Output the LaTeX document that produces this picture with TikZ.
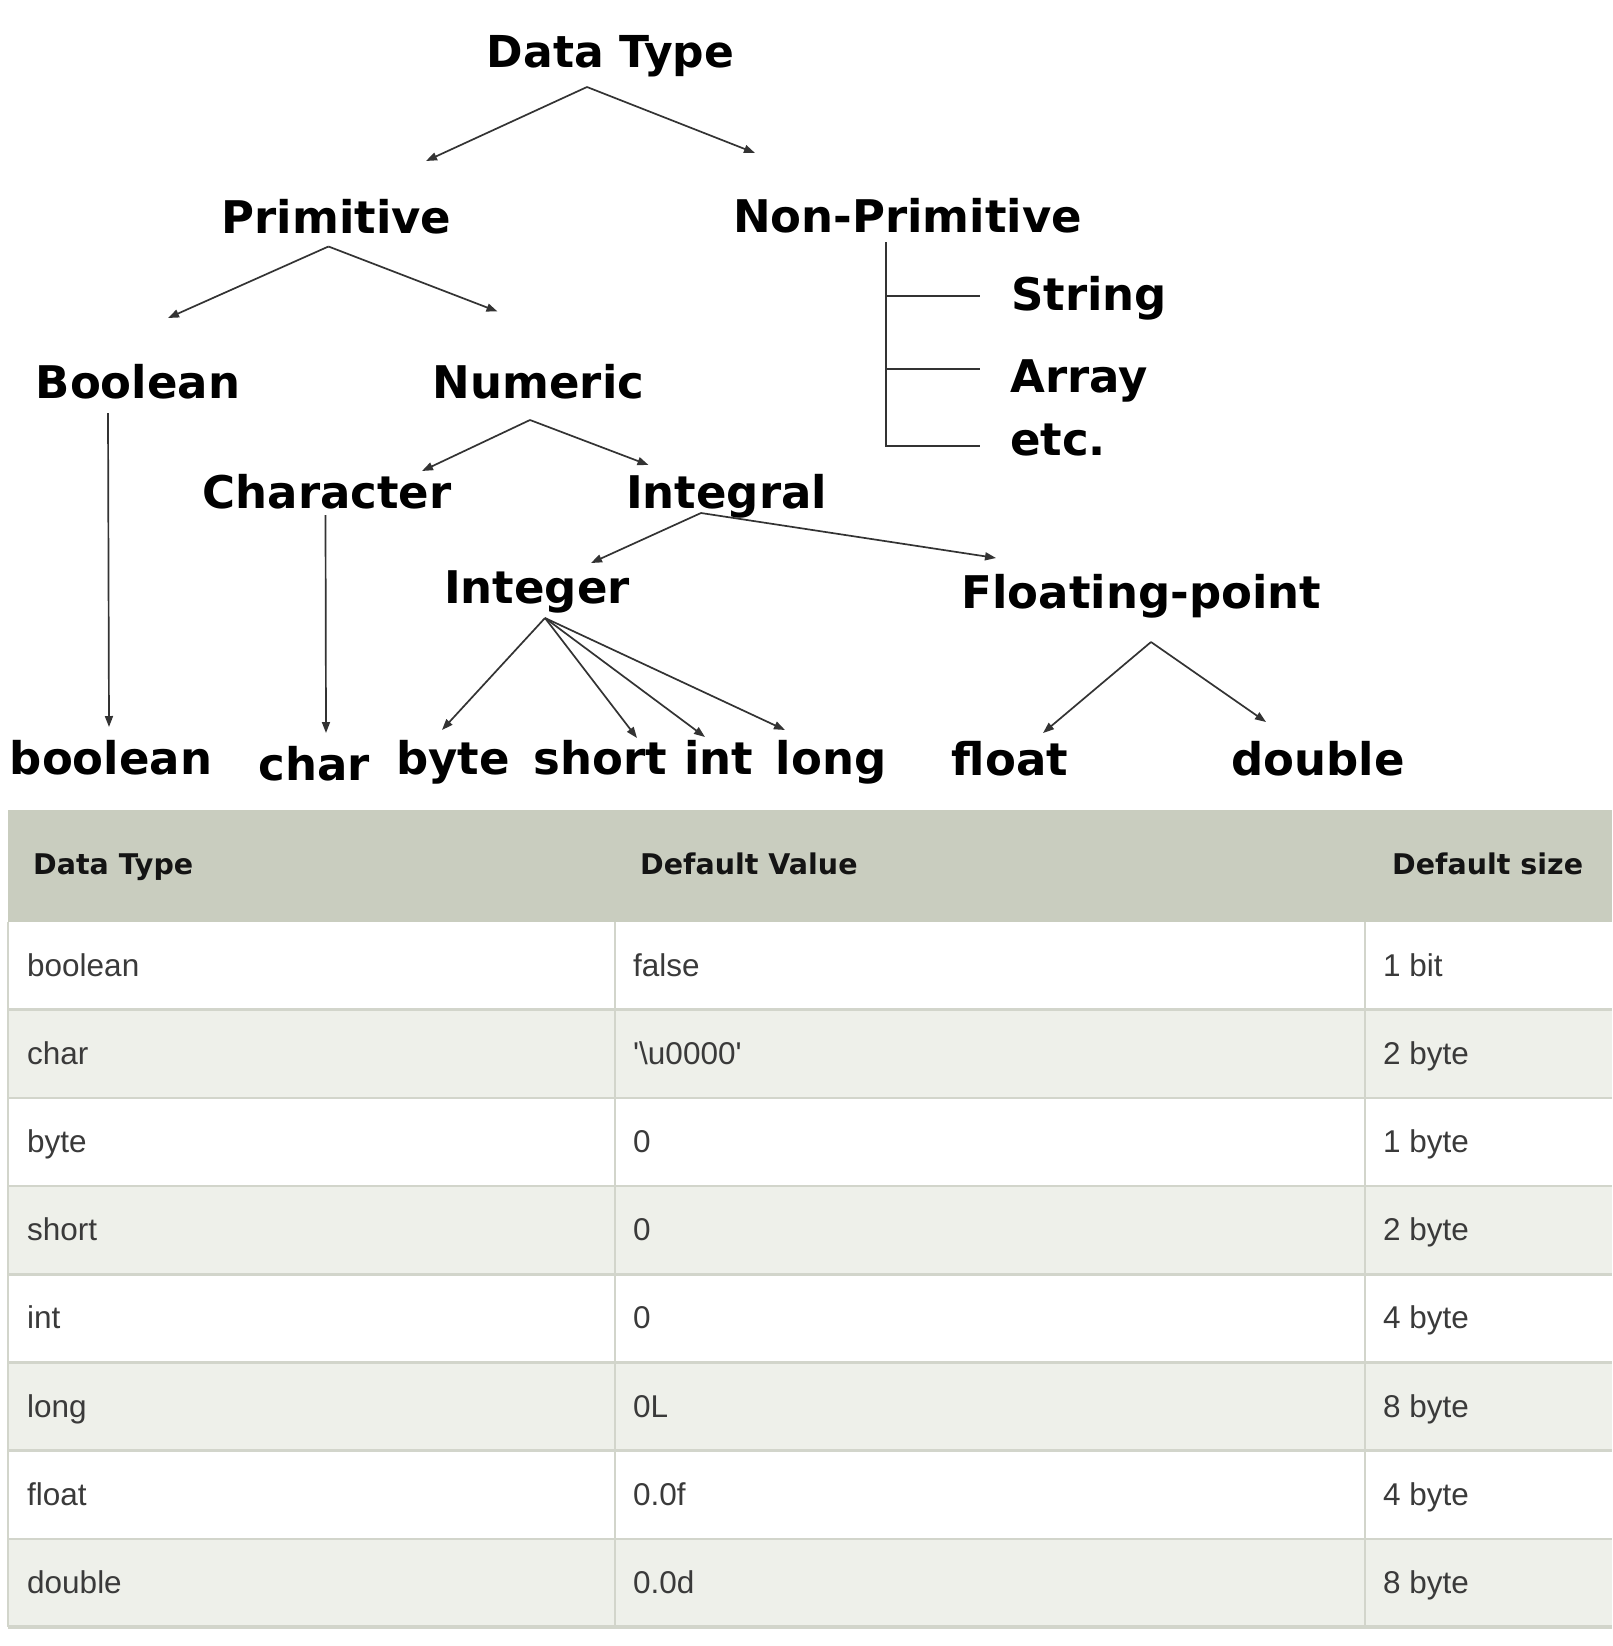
\documentclass[tikz,border=0pt]{standalone}
\usepackage{fontspec}
\setmainfont{Liberation Sans}
\newfontfamily\treefont{DejaVu Sans}
\usetikzlibrary{arrows.meta}

\definecolor{headbg}{HTML}{C9CDBF}
\definecolor{altrow}{HTML}{EEF0EA}
\definecolor{tabline}{HTML}{D2D5CB}
\definecolor{inkline}{HTML}{333333}
\definecolor{celltext}{HTML}{3A3A3A}

\begin{document}
\begin{tikzpicture}[x=1pt,y=-1pt,
  tree/.style={font=\treefont\bfseries\fontsize{45}{50}\selectfont, inner sep=0pt, anchor=base, text=black},
  treeleft/.style={tree, anchor=base west},
  link/.style={draw=inkline, line width=1.7pt, -{Triangle[length=11pt,width=8pt]}},
  bracket/.style={draw=inkline, line width=1.8pt},
  head/.style={font=\treefont\bfseries\fontsize{28.5}{32}\selectfont, text=black!92, inner sep=0pt, anchor=base west},
  cell/.style={font=\fontsize{31.5}{36}\selectfont, text=celltext, inner sep=0pt, anchor=base west},
  rowrule/.style={draw=tabline, line width=2.5pt},
  colrule/.style={draw=tabline, line width=2pt},
]
\useasboundingbox (0,0) rectangle (1612,1646);
\fill[white] (0,0) rectangle (1612,1646);

% ---------------- classification tree ----------------
\node[tree, font=\treefont\bfseries\fontsize{44}{50}\selectfont] (dt) at (610.5,67) {Data Type};
\node[tree] (prim)    at (336.5,233) {Primitive};
\node[tree] (nonprim) at (907.5,232) {Non-Primitive};
\node[tree] (boolT)   at (138,398)   {Boolean};
\node[tree] (num)     at (538.5,398) {Numeric};
\node[treeleft] (str) at (1011,310)  {String};
\node[treeleft] (arr) at (1010,392)  {Array};
\node[treeleft] (etc) at (1010,455)  {etc.};
\node[tree] (chr)     at (327,508)   {Character};
\node[tree] (itg)     at (726.5,508) {Integral};
\node[tree] (intgr)   at (537,603)   {Integer};
\node[tree] (fp)      at (1141.5,608){Floating-point};

\node[tree] (tboolean) at (111,774)   {boolean};
\node[tree] (tchar)    at (314.5,780) {char};
\node[tree] (tbyte)    at (453,774)   {byte};
\node[tree] (tshort)   at (600,774)   {short};
\node[tree] (tint)     at (719,774)   {int};
\node[tree] (tlong)    at (831,774)   {long};
\node[tree] (tfloat)   at (1010,775)  {float};
\node[tree] (tdouble)  at (1318,775)  {double};

% fork points under each parent and arrival points above each child
\coordinate (dt-fork)   at (587,87);
\coordinate (prim-in)   at (426,161);
\coordinate (nonprim-in)at (755,153);
\coordinate (prim-fork) at (328.5,246.5);
\coordinate (boolT-in)  at (168,318);
\coordinate (num-in)    at (497.5,311.5);
\coordinate (num-fork)  at (530,420);
\coordinate (chr-in)    at (422,471);
\coordinate (itg-in)    at (648.5,465);
\coordinate (boolT-out) at (108,413);
\coordinate (tboolean-in) at (109,727);
\coordinate (chr-out)   at (325.5,515);
\coordinate (tchar-in)  at (326,733);
\coordinate (itg-fork)  at (701,513);
\coordinate (intgr-in)  at (591,563);
\coordinate (fp-in)     at (996,558);
\coordinate (intgr-fork) at (545,618);
\coordinate (tbyte-in)  at (442,730);
\coordinate (tshort-in) at (637,738);
\coordinate (tint-in)   at (705,737);
\coordinate (tlong-in)  at (785,730);
\coordinate (fp-fork)   at (1151,642);
\coordinate (tfloat-in) at (1043,733);
\coordinate (tdouble-in)at (1266,722);

\draw[link] (dt-fork) -- (prim-in);
\draw[link] (dt-fork) -- (nonprim-in);
\draw[link] (prim-fork) -- (boolT-in);
\draw[link] (prim-fork) -- (num-in);
\draw[link] (num-fork) -- (chr-in);
\draw[link] (num-fork) -- (itg-in);
\draw[link] (boolT-out) -- (tboolean-in);
\draw[link] (chr-out) -- (tchar-in);
\draw[link] (itg-fork) -- (intgr-in);
\draw[link] (itg-fork) -- (fp-in);
\draw[link] (intgr-fork) -- (tbyte-in);
\draw[link] (intgr-fork) -- (tshort-in);
\draw[link] (intgr-fork) -- (tint-in);
\draw[link] (intgr-fork) -- (tlong-in);
\draw[link] (fp-fork) -- (tfloat-in);
\draw[link] (fp-fork) -- (tdouble-in);

% non-primitive bracket
\coordinate (np-top)  at (886,242);
\coordinate (np-str)  at (886,296);
\coordinate (np-arr)  at (886,369);
\coordinate (np-etc)  at (886,446);
\draw[bracket] (np-top) -- (np-etc) -- ++(94,0);
\draw[bracket] (np-str) -- ++(94,0);
\draw[bracket] (np-arr) -- ++(94,0);

% ---------------- default value table ----------------
\fill[headbg] (8,810) rectangle (1612,921.5);
\foreach \k in {1,3,5,7}
  \fill[altrow] (8,{921.5+88.2*\k}) rectangle (1612,{921.5+88.2*(\k+1)});
\foreach \k in {1,...,7}
  \draw[rowrule] (8,{921.5+88.2*\k}) -- (1612,{921.5+88.2*\k});
\draw[rowrule, line width=3.5pt] (8,1627) -- (1612,1627);
\draw[colrule] (8,921.5) -- (8,1627);
\draw[colrule] (615,921.5) -- (615,1627);
\draw[colrule] (1365,921.5) -- (1365,1627);

\node[head] (h-type)  at (33,874)   {Data Type};
\node[head] (h-value) at (640,874)  {Default Value};
\node[head] (h-size)  at (1392,874) {Default size};

\foreach \t/\v/\s [count=\i from 0] in {
    boolean/false/1 bit,
    char/{\textquotesingle\textbackslash u0000\textquotesingle}/2 byte,
    byte/0/1 byte,
    short/0/2 byte,
    int/0/4 byte,
    long/0L/8 byte,
    float/0.0f/4 byte,
    double/0.0d/8 byte} {
  \node[cell] (c-\i-type)  at (27,{976+88.2*\i})   {\t};
  \node[cell] (c-\i-value) at (633,{976+88.2*\i})  {\v};
  \node[cell] (c-\i-size)  at (1383,{976+88.2*\i}) {\s};
}
\end{tikzpicture}
\end{document}
